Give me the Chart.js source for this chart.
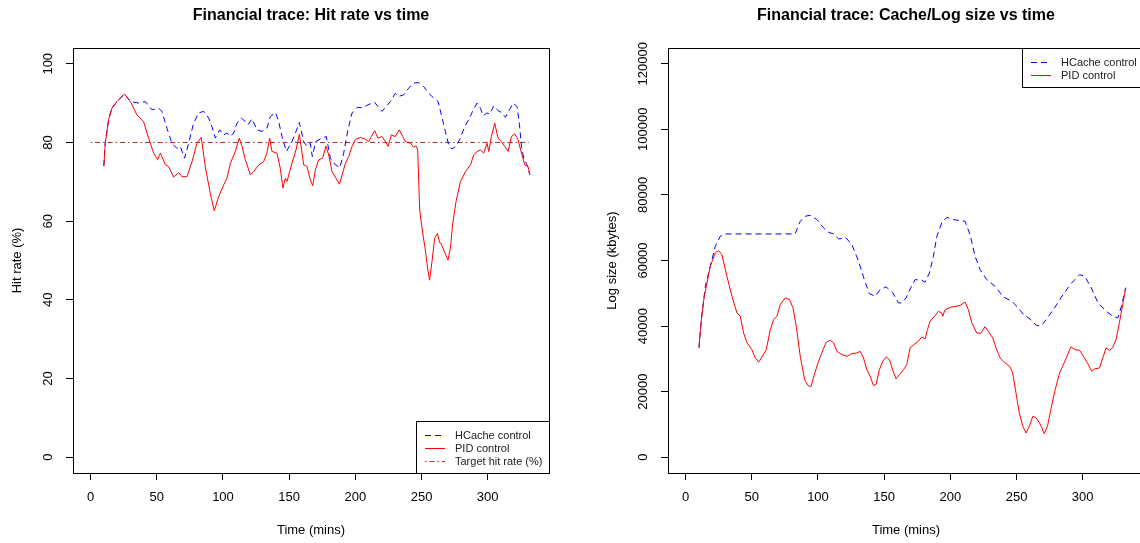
<!DOCTYPE html>
<html lang="en">
<head>
<meta charset="UTF-8" />
<title>Financial trace</title>
<style>
  html, body { margin: 0; padding: 0; background: #fff; overflow: hidden; }
  #wrap { position: relative; width: 1140px; height: 543px; overflow: hidden; }
  canvas { position: absolute; top: 0; }
  #hitChart { left: 0; }
  #logChart { left: 574px; }
</style>
<script src="https://cdn.jsdelivr.net/npm/chart.js"></script>
</head>
<body>
<div id="wrap">
  <canvas id="hitChart" width="570" height="543"></canvas>
  <canvas id="logChart" width="581" height="543"></canvas>
</div>
<script>
// ---- tick labels ----
const timeTicks = [0, 50, 100, 150, 200, 250, 300];
const hitTicks = [0, 20, 40, 60, 80, 100];
const logTicks = [0, 20000, 40000, 60000, 80000, 100000, 120000];

// ---- data: hit rate panel ----
const hitTimeHCache = [10, 11, 13.6, 16, 20, 25.7, 30, 36.3, 41.3, 46.3, 51.4, 53.9, 57.7, 61.4, 65.2, 67.7, 71, 74.1, 77.8, 81.6,
  85.4, 89.2, 91.7, 94.2, 97.5, 100.5, 103, 105.6, 108.1, 110.6, 113.9, 116.9, 118.9, 121.9, 125.7, 129.5, 133.2, 135.8, 139.6, 142.1,
  144.6, 147.9, 152.1, 155.2, 157.7, 161, 163.5, 166, 167.5, 170, 174.8, 178.1, 181.1, 184.9, 188.3, 191.2, 194.4, 197.5, 201.3, 206.3,
  209.6, 214.6, 217.1, 220.1, 223.2, 226.5, 230.2, 232.8, 236.5, 240.3, 244.1, 247.9, 251.6, 255.4, 259.2, 262.5, 265, 268, 270.5, 273,
  276.1, 279.4, 282.6, 285.6, 288.6, 291.9, 294.5, 296.5, 299.5, 301.5, 304.5, 307.8, 310.8, 313.4, 316.4, 319.2, 322.2, 324, 325.5, 327.2,
  329.7, 331.8];
const hitHCache = [74, 79.8, 85.8, 88.7, 90.4, 92.3, 90.4, 90, 90.4, 88.3, 88.7, 87.9, 83.6, 79.8, 78.5, 79, 76, 79.8, 84.9, 87.5,
  87.9, 86.2, 84, 81.1, 83.2, 81.9, 82.4, 81.5, 82.4, 84.9, 86.2, 85.3, 84.5, 86, 83.2, 82.8, 83.6, 86.6, 87.6, 85.3,
  81.5, 77.7, 80.2, 82.8, 85.1, 80.2, 79, 79.8, 76.4, 80.2, 81.1, 81.5, 76, 74.3, 73.6, 77.3, 83.2, 87.5, 88.9, 88.9,
  89.6, 90.2, 89.1, 87.9, 89.1, 90.4, 92.5, 91.7, 92.1, 93.8, 95.1, 95.2, 94.2, 92.5, 91.3, 90.4, 87, 82.8, 79.4, 78.3,
  79.1, 81.1, 84, 85.8, 87.9, 90, 88.7, 86.8, 87.5, 87.2, 89.3, 88.1, 87.5, 86.4, 88.3, 90, 89.1, 84.5, 79, 76,
  74.3, 71.8];

const hitTimePID = [10, 11.1, 13.6, 16.1, 19.9, 24.9, 25.7, 30, 35, 40, 43.8, 47.6, 50.6, 52.7, 56.5, 58.9, 62.7, 66.5, 69, 72.8,
  76.6, 80.3, 83.6, 86.6, 90.4, 93.4, 96.7, 100.5, 103, 105.6, 109.3, 112.3, 114.4, 116.9, 120.7, 123.2, 127, 130.7, 133.2, 135.3,
  137, 140.8, 143.3, 145.3, 147.1, 148.4, 152.1, 155.2, 157.7, 161, 163.5, 166, 167.8, 169.8, 172.3, 175.3, 177.8, 179.9, 182.4, 185.4,
  188, 190.4, 192.5, 195, 197.5, 200, 203.8, 207.6, 210.1, 212.1, 214.6, 217.1, 220.1, 222.7, 224.7, 227.2, 230.2, 233.2, 235.8, 237.8,
  241.6, 244.1, 245.9, 247.1, 248.6, 250.9, 252.9, 254.6, 256.1, 257.9, 259.9, 262, 263.7, 264.7, 267.3, 270, 271.8, 273.6, 276.1, 279.4,
  283.2, 287, 289.4, 291.9, 294.5, 297, 299.5, 300.8, 302.8, 305.3, 307.8, 310.3, 312.9, 315.4, 317.9, 320.4, 322.9, 325.5, 328, 330.5,
  331.8];
const hitPID = [74, 79.8, 85.8, 88.7, 90.4, 92.1, 92.3, 90.4, 87, 85.3, 81.1, 77.3, 75.6, 77.3, 74.3, 73.9, 71.2, 72.3, 71.3, 71.3,
  75.1, 79.8, 81.3, 73.9, 67.1, 62.6, 66.2, 69.2, 70.9, 74.7, 77.7, 81.1, 79, 75.6, 71.8, 72.6, 74.3, 75.1, 77.3, 81.1,
  77.7, 77.3, 73.4, 68.4, 70.9, 70.1, 74.7, 78.1, 82.1, 74.3, 73.9, 70.5, 69, 73, 75.6, 76, 79.1, 76.8, 72.6, 70.9,
  69.4, 72.2, 74.7, 76.4, 79, 80.7, 81.3, 80.8, 80.2, 81.5, 83, 81.1, 81.5, 80.2, 79, 81.9, 81.5, 83.2, 81.5, 80.2,
  79.8, 78.8, 79.1, 78.1, 62.8, 56.9, 52.7, 48, 45, 49.7, 55.6, 56.9, 54.5, 54.4, 52.2, 50.1, 53.1, 59.5, 65, 70.1,
  72.6, 74.3, 76.8, 77.7, 78.1, 77.3, 79.8, 77.7, 81.5, 84.9, 81.1, 80.2, 79, 77.7, 81.5, 82.2, 80.7, 77.3, 74.3, 73.9,
  71.8];

const targetTime = [0, 331];
const targetRate = [80, 80];

// ---- data: log size panel ----
const logTimeHCache = [10.1, 11.9, 14.9, 18.6, 22.4, 26.2, 30, 82.7, 86.6, 90.4, 94.2, 99.2, 104.2, 108, 111.8, 115.6, 121.2, 125.6, 130.7, 135,
  138.8, 143.1, 146.9, 151.5, 156.5, 160.8, 163.3, 166.6, 170.1, 173.4, 178.4, 180.9, 184.2, 187.2, 189.8, 193.5, 197.3, 202.3, 207.3, 211.1,
  214.9, 218.7, 222.5, 227.5, 233.8, 240.1, 246.4, 251.4, 255.2, 260.2, 265.2, 268.9, 272.4, 278.6, 283.5, 290.5, 297.7, 301.5, 306.5, 311.5,
  317.8, 322.8, 326.6, 329.2, 332.4];
const logHCache = [33400, 42000, 52100, 58200, 64300, 67400, 68100, 68100, 71960, 73490, 73800, 72480, 69950, 68600, 68100, 66590, 66890, 64850, 59760, 54180,
  49910, 49090, 51130, 51950, 50120, 47080, 47070, 48600, 51650, 54180, 54000, 53370, 56220, 61280, 67380, 71460, 73170, 72480, 72180, 71960,
  67870, 61280, 57220, 54180, 52130, 48900, 47560, 45550, 43510, 42170, 40150, 40150, 41980, 45500, 48600, 52650, 55700, 55180, 51650, 47080,
  44510, 43000, 42500, 46030, 51650];

const logTimePID = [10.1, 11.9, 14.1, 16.2, 18.6, 22.4, 24.9, 27.4, 31.2, 35, 38.8, 41.3, 43.8, 46.4, 50.1, 52.6, 55.2, 57.7, 60.9, 64,
  66.5, 69, 71.5, 75.3, 78.5, 81.1, 83.6, 86.6, 89.9, 92.4, 94.7, 97.2, 100.5, 103.8, 106.3, 109.3, 111.8, 114.3, 118.1, 121.9,
  125.6, 129.4, 131.9, 134.4, 136.9, 139.4, 141.9, 143.9, 146.4, 149, 151.5, 154, 156.5, 159, 161.5, 164.6, 167.1, 169.6, 172.6, 175.9,
  178.4, 181, 182.7, 184.7, 188.5, 191, 193.5, 194.3, 196, 199.8, 203.6, 207.4, 211.1, 213.6, 216.2, 219.9, 222.9, 226.2, 228.7, 232,
  235, 237.6, 241.3, 245.1, 247.1, 249.6, 252.1, 254.7, 257.2, 259.7, 262.3, 264.8, 267.3, 269.1, 270.9, 273.4, 275.9, 279.2, 282.5, 286,
  288.1, 291.1, 294.4, 297.7, 300.5, 303.5, 306.8, 309.3, 312.6, 315.6, 317.6, 320.1, 322.6, 325.2, 327.7, 330.2, 332.6];
const logPID = [33400, 42000, 49100, 53200, 58200, 62300, 63000, 61800, 55200, 49100, 44000, 43000, 37900, 34900, 32800, 30300, 29000, 30600, 32800, 38900,
  42000, 43000, 46600, 48600, 48100, 45600, 39900, 30800, 23700, 21900, 21500, 25200, 29300, 32800, 35100, 35700, 34900, 32300, 31300, 30800,
  31600, 31800, 32300, 30300, 26700, 24700, 21900, 22200, 26700, 29300, 30600, 29800, 26500, 23900, 25200, 26700, 28300, 33400, 34400, 35400,
  36700, 36100, 38900, 41500, 43200, 44500, 44000, 43000, 45000, 45700, 46000, 46300, 47300, 45000, 41000, 37900, 37800, 39800, 38400, 36400,
  32800, 30300, 28800, 27600, 25700, 19600, 13500, 9500, 7400, 9500, 12500, 12000, 10500, 9000, 7200, 9500, 14500, 20600, 25700, 28800,
  30800, 33700, 32800, 32600, 30800, 28800, 26200, 27000, 27200, 30800, 33400, 32600, 33400, 35900, 41000, 46600, 51700];

const FONT = '"Liberation Sans", Arial, Helvetica, sans-serif';

function pts(xs, ys) {
  return xs.map((x, i) => ({ x: x, y: ys[i] }));
}

// draws the R style box, title, rotated y labels and the legend
const framePlugin = {
  id: 'frame',
  afterDraw(chart, args, opts) {
    const ctx = chart.ctx;
    const a = chart.chartArea;
    ctx.save();
    ctx.strokeStyle = '#000';
    ctx.lineWidth = 1;
    ctx.strokeRect(Math.round(a.left) + 0.5, Math.round(a.top) + 0.5,
      Math.round(a.right - a.left), Math.round(a.bottom - a.top));

    ctx.fillStyle = '#000';
    ctx.textAlign = 'center';
    ctx.textBaseline = 'middle';
    ctx.font = 'bold 16px ' + FONT;
    ctx.fillText(opts.title, (a.left + a.right) / 2, 16);

    const ys = chart.scales.y;
    ctx.font = '13px ' + FONT;
    ys.ticks.forEach(t => {
      const py = ys.getPixelForValue(t.value);
      ctx.save();
      ctx.translate(a.left - 25, py);
      ctx.rotate(-Math.PI / 2);
      ctx.fillText(String(t.value), 0, 0);
      ctx.restore();
    });

    // legend
    ctx.font = '11px ' + FONT;
    const items = opts.legendOrder.map(i => chart.getDatasetMeta(i));
    let maxW = 0;
    items.forEach(m => { maxW = Math.max(maxW, ctx.measureText(m.label).width); });
    const w = 39 + maxW + 7;
    const h = items.length * 13 + 13;
    const right = Math.round(a.right);
    const left = right - Math.round(w);
    const top = opts.legendAt === 'bottom' ? Math.round(a.bottom) - h : Math.round(a.top);
    ctx.fillStyle = '#fff';
    ctx.fillRect(left, top, right - left, h);
    ctx.strokeStyle = '#000';
    ctx.strokeRect(left + 0.5, top + 0.5, right - left, h);
    ctx.textAlign = 'left';
    items.forEach((m, i) => {
      const o = m.dataset.options;
      const ry = Math.round(top + 13.5 + i * 13) + 0.5;
      ctx.save();
      ctx.strokeStyle = o.borderColor;
      ctx.lineWidth = 1;
      ctx.setLineDash(o.borderDash || []);
      ctx.beginPath();
      ctx.moveTo(left + 9, ry);
      ctx.lineTo(left + 29, ry);
      ctx.stroke();
      ctx.restore();
      ctx.fillStyle = '#222';
      ctx.fillText(m.label, left + 39, ry);
    });
    ctx.restore();
  }
};

function makeChart(id, datasets, cfg) {
  const tickFont = { family: FONT, size: 13 };
  return new Chart(document.getElementById(id), {
    type: 'line',
    data: { datasets: datasets },
    options: {
      responsive: false,
      animation: false,
      devicePixelRatio: 1,
      layout: { padding: { top: 48, right: cfg.padRight, bottom: 0, left: 0 } },
      elements: { point: { radius: 0 }, line: { borderWidth: 1, tension: 0 } },
      plugins: {
        legend: { display: false },
        tooltip: { enabled: false },
        frame: { title: cfg.title, legendOrder: cfg.legendOrder, legendAt: cfg.legendAt }
      },
      scales: {
        x: {
          type: 'linear',
          min: -13.3,
          max: 346.3,
          afterBuildTicks: s => { s.ticks = timeTicks.map(v => ({ value: v })); },
          ticks: { color: '#000', font: tickFont, padding: 10, maxRotation: 0, autoSkip: false,
            callback: v => String(v) },
          grid: { display: true, drawOnChartArea: false, drawTicks: true, tickLength: 7, color: '#000' },
          border: { display: true, color: '#000' },
          title: { display: true, text: 'Time (mins)', color: '#000', font: tickFont, padding: { top: 0, bottom: 4.5 } },
          afterFit: s => { s.height = 70; }
        },
        y: {
          type: 'linear',
          min: cfg.yMin,
          max: cfg.yMax,
          afterBuildTicks: s => { s.ticks = cfg.yTicks.map(v => ({ value: v })); },
          ticks: { display: false, autoSkip: false },
          grid: { display: true, drawOnChartArea: false, drawTicks: true, tickLength: 7, color: '#000' },
          border: { display: true, color: '#000' },
          title: { display: true, text: cfg.yTitle, color: '#000', font: tickFont,
            padding: { top: cfg.yWidth - 56 - 7.8, bottom: 0 } },
          afterFit: s => { s.width = cfg.yWidth; }
        }
      }
    },
    plugins: [framePlugin]
  });
}

makeChart('hitChart', [
  { label: 'HCache control', data: pts(hitTimeHCache, hitHCache), borderColor: '#0000ff', borderDash: [6, 4], order: 1 },
  { label: 'PID control', data: pts(hitTimePID, hitPID), borderColor: '#ff0000', order: 0 },
  { label: 'Target hit rate (%)', data: pts(targetTime, targetRate), borderColor: '#a52a2a', borderDash: [1.5, 3, 5, 3], order: 2 }
], {
  title: 'Financial trace: Hit rate vs time',
  yTitle: 'Hit rate (%)',
  yMin: -4, yMax: 104, yTicks: hitTicks,
  yWidth: 73, padRight: 21,
  legendOrder: [0, 1, 2], legendAt: 'bottom'
});

makeChart('logChart', [
  { label: 'HCache control', data: pts(logTimeHCache, logHCache), borderColor: '#0000ff', borderDash: [6, 4], order: 1 },
  { label: 'PID control', data: pts(logTimePID, logPID), borderColor: '#ff0000', order: 0 }
], {
  title: 'Financial trace: Cache/Log size vs time',
  yTitle: 'Log size (kbytes)',
  yMin: -4800, yMax: 124800, yTicks: logTicks,
  yWidth: 94, padRight: 11,
  legendOrder: [0, 1], legendAt: 'top'
});
</script>
</body>
</html>
